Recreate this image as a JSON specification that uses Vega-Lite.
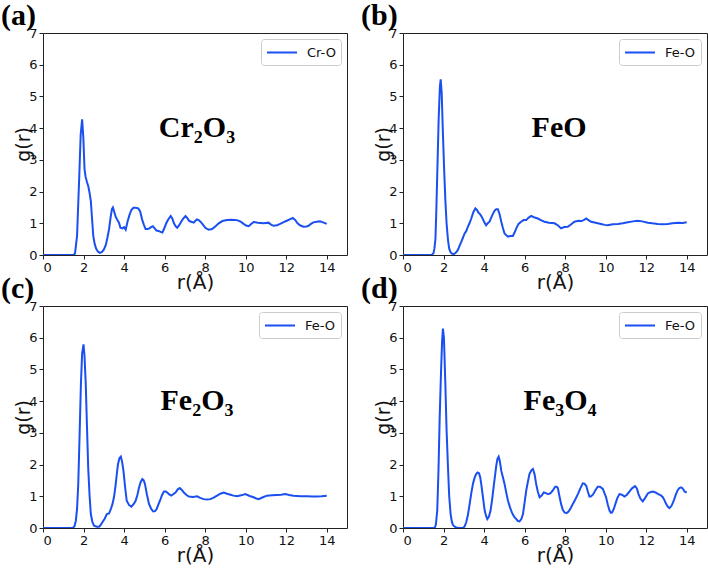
{
  "$schema": "https://vega.github.io/schema/vega-lite/v6.json",
  "padding": 0,
  "bounds": "flush",
  "columns": 2,
  "spacing": {"row": 51, "column": 56},
  "resolve": {"scale": {"color": "independent"}, "legend": {"color": "independent"}},
  "datasets": {
    "a": [
      {"pair":"Cr-O","r":0,"g":0},{"pair":"Cr-O","r":1.5,"g":0},{"pair":"Cr-O","r":1.58,"g":0.05},{"pair":"Cr-O","r":1.68,"g":0.6},{"pair":"Cr-O","r":1.79,"g":2.5},{"pair":"Cr-O","r":1.86,"g":3.8},{"pair":"Cr-O","r":1.93,"g":4.28},{"pair":"Cr-O","r":1.99,"g":3.7},{"pair":"Cr-O","r":2.05,"g":2.7},{"pair":"Cr-O","r":2.1,"g":2.47},{"pair":"Cr-O","r":2.17,"g":2.3},{"pair":"Cr-O","r":2.24,"g":2.15},{"pair":"Cr-O","r":2.3,"g":1.95},{"pair":"Cr-O","r":2.36,"g":1.7},{"pair":"Cr-O","r":2.42,"g":1.15},{"pair":"Cr-O","r":2.48,"g":0.6},{"pair":"Cr-O","r":2.55,"g":0.35},{"pair":"Cr-O","r":2.62,"g":0.2},{"pair":"Cr-O","r":2.7,"g":0.12},{"pair":"Cr-O","r":2.8,"g":0.07},{"pair":"Cr-O","r":2.9,"g":0.09},{"pair":"Cr-O","r":3.0,"g":0.17},{"pair":"Cr-O","r":3.1,"g":0.32},{"pair":"Cr-O","r":3.18,"g":0.55},{"pair":"Cr-O","r":3.26,"g":0.82},{"pair":"Cr-O","r":3.34,"g":1.2},{"pair":"Cr-O","r":3.4,"g":1.45},{"pair":"Cr-O","r":3.45,"g":1.5},{"pair":"Cr-O","r":3.52,"g":1.35},{"pair":"Cr-O","r":3.59,"g":1.2},{"pair":"Cr-O","r":3.67,"g":1.1},{"pair":"Cr-O","r":3.75,"g":1.02},{"pair":"Cr-O","r":3.82,"g":0.86},{"pair":"Cr-O","r":3.92,"g":0.84},{"pair":"Cr-O","r":4.0,"g":0.88},{"pair":"Cr-O","r":4.08,"g":0.8},{"pair":"Cr-O","r":4.17,"g":1.05},{"pair":"Cr-O","r":4.26,"g":1.25},{"pair":"Cr-O","r":4.36,"g":1.42},{"pair":"Cr-O","r":4.46,"g":1.49},{"pair":"Cr-O","r":4.57,"g":1.49},{"pair":"Cr-O","r":4.7,"g":1.47},{"pair":"Cr-O","r":4.79,"g":1.38},{"pair":"Cr-O","r":4.9,"g":1.1},{"pair":"Cr-O","r":4.98,"g":0.95},{"pair":"Cr-O","r":5.06,"g":0.82},{"pair":"Cr-O","r":5.15,"g":0.82},{"pair":"Cr-O","r":5.25,"g":0.84},{"pair":"Cr-O","r":5.33,"g":0.88},{"pair":"Cr-O","r":5.42,"g":0.91},{"pair":"Cr-O","r":5.5,"g":0.85},{"pair":"Cr-O","r":5.6,"g":0.77},{"pair":"Cr-O","r":5.7,"g":0.76},{"pair":"Cr-O","r":5.8,"g":0.73},{"pair":"Cr-O","r":5.89,"g":0.71},{"pair":"Cr-O","r":5.97,"g":0.82},{"pair":"Cr-O","r":6.08,"g":1.0},{"pair":"Cr-O","r":6.18,"g":1.12},{"pair":"Cr-O","r":6.3,"g":1.23},{"pair":"Cr-O","r":6.38,"g":1.15},{"pair":"Cr-O","r":6.46,"g":1.0},{"pair":"Cr-O","r":6.55,"g":0.9},{"pair":"Cr-O","r":6.62,"g":0.86},{"pair":"Cr-O","r":6.72,"g":0.94},{"pair":"Cr-O","r":6.82,"g":1.05},{"pair":"Cr-O","r":6.92,"g":1.15},{"pair":"Cr-O","r":7.03,"g":1.23},{"pair":"Cr-O","r":7.12,"g":1.16},{"pair":"Cr-O","r":7.22,"g":1.07},{"pair":"Cr-O","r":7.32,"g":1.05},{"pair":"Cr-O","r":7.44,"g":1.02},{"pair":"Cr-O","r":7.52,"g":1.08},{"pair":"Cr-O","r":7.6,"g":1.12},{"pair":"Cr-O","r":7.68,"g":1.1},{"pair":"Cr-O","r":7.77,"g":1.05},{"pair":"Cr-O","r":7.9,"g":0.95},{"pair":"Cr-O","r":8.02,"g":0.85},{"pair":"Cr-O","r":8.18,"g":0.8},{"pair":"Cr-O","r":8.34,"g":0.82},{"pair":"Cr-O","r":8.5,"g":0.9},{"pair":"Cr-O","r":8.67,"g":1.0},{"pair":"Cr-O","r":8.85,"g":1.07},{"pair":"Cr-O","r":9.08,"g":1.1},{"pair":"Cr-O","r":9.3,"g":1.11},{"pair":"Cr-O","r":9.57,"g":1.1},{"pair":"Cr-O","r":9.75,"g":1.05},{"pair":"Cr-O","r":9.9,"g":0.98},{"pair":"Cr-O","r":10.02,"g":0.93},{"pair":"Cr-O","r":10.15,"g":0.91},{"pair":"Cr-O","r":10.27,"g":0.98},{"pair":"Cr-O","r":10.39,"g":1.04},{"pair":"Cr-O","r":10.6,"g":1.02},{"pair":"Cr-O","r":10.89,"g":1.0},{"pair":"Cr-O","r":11.13,"g":1.02},{"pair":"Cr-O","r":11.25,"g":0.96},{"pair":"Cr-O","r":11.38,"g":0.92},{"pair":"Cr-O","r":11.55,"g":0.94},{"pair":"Cr-O","r":11.7,"g":0.98},{"pair":"Cr-O","r":11.85,"g":1.03},{"pair":"Cr-O","r":12.03,"g":1.08},{"pair":"Cr-O","r":12.2,"g":1.13},{"pair":"Cr-O","r":12.33,"g":1.17},{"pair":"Cr-O","r":12.45,"g":1.1},{"pair":"Cr-O","r":12.56,"g":1.0},{"pair":"Cr-O","r":12.7,"g":0.93},{"pair":"Cr-O","r":12.85,"g":0.89},{"pair":"Cr-O","r":13.0,"g":0.9},{"pair":"Cr-O","r":13.1,"g":0.92},{"pair":"Cr-O","r":13.22,"g":0.98},{"pair":"Cr-O","r":13.34,"g":1.03},{"pair":"Cr-O","r":13.5,"g":1.05},{"pair":"Cr-O","r":13.67,"g":1.06},{"pair":"Cr-O","r":13.85,"g":1.02},{"pair":"Cr-O","r":14.0,"g":0.98}
    ],
    "b": [
      {"pair":"Fe-O","r":0,"g":0},{"pair":"Fe-O","r":1.4,"g":0},{"pair":"Fe-O","r":1.5,"g":0.05},{"pair":"Fe-O","r":1.55,"g":0.2},{"pair":"Fe-O","r":1.6,"g":0.5},{"pair":"Fe-O","r":1.64,"g":1.3},{"pair":"Fe-O","r":1.7,"g":2.8},{"pair":"Fe-O","r":1.76,"g":4.3},{"pair":"Fe-O","r":1.82,"g":5.3},{"pair":"Fe-O","r":1.86,"g":5.54},{"pair":"Fe-O","r":1.91,"g":5.1},{"pair":"Fe-O","r":1.97,"g":3.83},{"pair":"Fe-O","r":2.03,"g":2.7},{"pair":"Fe-O","r":2.09,"g":1.73},{"pair":"Fe-O","r":2.15,"g":1.0},{"pair":"Fe-O","r":2.22,"g":0.47},{"pair":"Fe-O","r":2.28,"g":0.2},{"pair":"Fe-O","r":2.35,"g":0.08},{"pair":"Fe-O","r":2.43,"g":0.04},{"pair":"Fe-O","r":2.51,"g":0.03},{"pair":"Fe-O","r":2.6,"g":0.07},{"pair":"Fe-O","r":2.71,"g":0.16},{"pair":"Fe-O","r":2.8,"g":0.3},{"pair":"Fe-O","r":2.88,"g":0.42},{"pair":"Fe-O","r":2.96,"g":0.55},{"pair":"Fe-O","r":3.04,"g":0.68},{"pair":"Fe-O","r":3.12,"g":0.75},{"pair":"Fe-O","r":3.2,"g":0.89},{"pair":"Fe-O","r":3.28,"g":1.0},{"pair":"Fe-O","r":3.37,"g":1.15},{"pair":"Fe-O","r":3.47,"g":1.35},{"pair":"Fe-O","r":3.57,"g":1.47},{"pair":"Fe-O","r":3.65,"g":1.42},{"pair":"Fe-O","r":3.73,"g":1.33},{"pair":"Fe-O","r":3.81,"g":1.28},{"pair":"Fe-O","r":3.89,"g":1.2},{"pair":"Fe-O","r":4.0,"g":1.05},{"pair":"Fe-O","r":4.1,"g":0.94},{"pair":"Fe-O","r":4.18,"g":1.0},{"pair":"Fe-O","r":4.27,"g":1.05},{"pair":"Fe-O","r":4.4,"g":1.25},{"pair":"Fe-O","r":4.52,"g":1.4},{"pair":"Fe-O","r":4.6,"g":1.44},{"pair":"Fe-O","r":4.68,"g":1.44},{"pair":"Fe-O","r":4.76,"g":1.3},{"pair":"Fe-O","r":4.85,"g":1.05},{"pair":"Fe-O","r":4.93,"g":0.85},{"pair":"Fe-O","r":5.01,"g":0.68},{"pair":"Fe-O","r":5.1,"g":0.62},{"pair":"Fe-O","r":5.18,"g":0.58},{"pair":"Fe-O","r":5.3,"g":0.6},{"pair":"Fe-O","r":5.42,"g":0.6},{"pair":"Fe-O","r":5.5,"g":0.7},{"pair":"Fe-O","r":5.59,"g":0.84},{"pair":"Fe-O","r":5.7,"g":0.98},{"pair":"Fe-O","r":5.83,"g":1.05},{"pair":"Fe-O","r":5.95,"g":1.1},{"pair":"Fe-O","r":6.08,"g":1.1},{"pair":"Fe-O","r":6.2,"g":1.18},{"pair":"Fe-O","r":6.33,"g":1.23},{"pair":"Fe-O","r":6.5,"g":1.18},{"pair":"Fe-O","r":6.65,"g":1.15},{"pair":"Fe-O","r":6.8,"g":1.1},{"pair":"Fe-O","r":6.98,"g":1.05},{"pair":"Fe-O","r":7.2,"g":1.02},{"pair":"Fe-O","r":7.48,"g":1.0},{"pair":"Fe-O","r":7.65,"g":0.93},{"pair":"Fe-O","r":7.8,"g":0.84},{"pair":"Fe-O","r":7.95,"g":0.88},{"pair":"Fe-O","r":8.13,"g":0.89},{"pair":"Fe-O","r":8.3,"g":0.97},{"pair":"Fe-O","r":8.46,"g":1.05},{"pair":"Fe-O","r":8.65,"g":1.08},{"pair":"Fe-O","r":8.79,"g":1.07},{"pair":"Fe-O","r":8.92,"g":1.1},{"pair":"Fe-O","r":9.04,"g":1.15},{"pair":"Fe-O","r":9.15,"g":1.1},{"pair":"Fe-O","r":9.28,"g":1.05},{"pair":"Fe-O","r":9.5,"g":1.02},{"pair":"Fe-O","r":9.77,"g":0.98},{"pair":"Fe-O","r":9.95,"g":0.95},{"pair":"Fe-O","r":10.1,"g":0.94},{"pair":"Fe-O","r":10.35,"g":0.97},{"pair":"Fe-O","r":10.6,"g":0.98},{"pair":"Fe-O","r":10.85,"g":1.0},{"pair":"Fe-O","r":11.09,"g":1.03},{"pair":"Fe-O","r":11.35,"g":1.06},{"pair":"Fe-O","r":11.58,"g":1.08},{"pair":"Fe-O","r":11.8,"g":1.06},{"pair":"Fe-O","r":12.08,"g":1.02},{"pair":"Fe-O","r":12.3,"g":1.0},{"pair":"Fe-O","r":12.57,"g":0.98},{"pair":"Fe-O","r":12.8,"g":0.97},{"pair":"Fe-O","r":13.06,"g":0.98},{"pair":"Fe-O","r":13.3,"g":1.0},{"pair":"Fe-O","r":13.56,"g":1.02},{"pair":"Fe-O","r":13.8,"g":1.01},{"pair":"Fe-O","r":14.0,"g":1.03}
    ],
    "c": [
      {"pair":"Fe-O","r":0,"g":0},{"pair":"Fe-O","r":1.46,"g":0},{"pair":"Fe-O","r":1.55,"g":0.05},{"pair":"Fe-O","r":1.62,"g":0.23},{"pair":"Fe-O","r":1.68,"g":0.6},{"pair":"Fe-O","r":1.74,"g":1.39},{"pair":"Fe-O","r":1.8,"g":2.8},{"pair":"Fe-O","r":1.87,"g":4.53},{"pair":"Fe-O","r":1.93,"g":5.5},{"pair":"Fe-O","r":2.0,"g":5.79},{"pair":"Fe-O","r":2.05,"g":5.4},{"pair":"Fe-O","r":2.11,"g":4.53},{"pair":"Fe-O","r":2.17,"g":3.2},{"pair":"Fe-O","r":2.23,"g":1.91},{"pair":"Fe-O","r":2.3,"g":1.0},{"pair":"Fe-O","r":2.36,"g":0.44},{"pair":"Fe-O","r":2.44,"g":0.18},{"pair":"Fe-O","r":2.52,"g":0.07},{"pair":"Fe-O","r":2.65,"g":0.04},{"pair":"Fe-O","r":2.77,"g":0.04},{"pair":"Fe-O","r":2.85,"g":0.1},{"pair":"Fe-O","r":2.93,"g":0.18},{"pair":"Fe-O","r":3.05,"g":0.3},{"pair":"Fe-O","r":3.15,"g":0.44},{"pair":"Fe-O","r":3.26,"g":0.46},{"pair":"Fe-O","r":3.35,"g":0.6},{"pair":"Fe-O","r":3.43,"g":0.76},{"pair":"Fe-O","r":3.51,"g":1.0},{"pair":"Fe-O","r":3.59,"g":1.39},{"pair":"Fe-O","r":3.65,"g":1.75},{"pair":"Fe-O","r":3.7,"g":2.01},{"pair":"Fe-O","r":3.77,"g":2.2},{"pair":"Fe-O","r":3.84,"g":2.25},{"pair":"Fe-O","r":3.9,"g":2.1},{"pair":"Fe-O","r":3.97,"g":1.8},{"pair":"Fe-O","r":4.05,"g":1.3},{"pair":"Fe-O","r":4.13,"g":0.86},{"pair":"Fe-O","r":4.25,"g":0.72},{"pair":"Fe-O","r":4.36,"g":0.67},{"pair":"Fe-O","r":4.47,"g":0.75},{"pair":"Fe-O","r":4.57,"g":0.86},{"pair":"Fe-O","r":4.66,"g":1.05},{"pair":"Fe-O","r":4.74,"g":1.28},{"pair":"Fe-O","r":4.82,"g":1.45},{"pair":"Fe-O","r":4.9,"g":1.54},{"pair":"Fe-O","r":4.97,"g":1.5},{"pair":"Fe-O","r":5.03,"g":1.39},{"pair":"Fe-O","r":5.13,"g":1.05},{"pair":"Fe-O","r":5.23,"g":0.76},{"pair":"Fe-O","r":5.34,"g":0.6},{"pair":"Fe-O","r":5.44,"g":0.52},{"pair":"Fe-O","r":5.53,"g":0.53},{"pair":"Fe-O","r":5.61,"g":0.6},{"pair":"Fe-O","r":5.7,"g":0.75},{"pair":"Fe-O","r":5.8,"g":0.91},{"pair":"Fe-O","r":5.88,"g":1.05},{"pair":"Fe-O","r":5.97,"g":1.15},{"pair":"Fe-O","r":6.05,"g":1.15},{"pair":"Fe-O","r":6.13,"g":1.12},{"pair":"Fe-O","r":6.23,"g":1.06},{"pair":"Fe-O","r":6.33,"g":1.02},{"pair":"Fe-O","r":6.44,"g":1.07},{"pair":"Fe-O","r":6.54,"g":1.12},{"pair":"Fe-O","r":6.65,"g":1.22},{"pair":"Fe-O","r":6.75,"g":1.26},{"pair":"Fe-O","r":6.85,"g":1.2},{"pair":"Fe-O","r":6.95,"g":1.12},{"pair":"Fe-O","r":7.08,"g":1.04},{"pair":"Fe-O","r":7.2,"g":0.99},{"pair":"Fe-O","r":7.4,"g":0.98},{"pair":"Fe-O","r":7.61,"g":1.0},{"pair":"Fe-O","r":7.75,"g":0.95},{"pair":"Fe-O","r":7.93,"g":0.91},{"pair":"Fe-O","r":8.1,"g":0.9},{"pair":"Fe-O","r":8.26,"g":0.91},{"pair":"Fe-O","r":8.42,"g":0.96},{"pair":"Fe-O","r":8.59,"g":1.02},{"pair":"Fe-O","r":8.75,"g":1.08},{"pair":"Fe-O","r":8.92,"g":1.12},{"pair":"Fe-O","r":9.08,"g":1.08},{"pair":"Fe-O","r":9.25,"g":1.05},{"pair":"Fe-O","r":9.4,"g":1.02},{"pair":"Fe-O","r":9.57,"g":1.0},{"pair":"Fe-O","r":9.78,"g":1.03},{"pair":"Fe-O","r":9.98,"g":1.07},{"pair":"Fe-O","r":10.2,"g":1.01},{"pair":"Fe-O","r":10.39,"g":0.97},{"pair":"Fe-O","r":10.52,"g":0.93},{"pair":"Fe-O","r":10.64,"g":0.91},{"pair":"Fe-O","r":10.85,"g":0.97},{"pair":"Fe-O","r":11.05,"g":1.02},{"pair":"Fe-O","r":11.3,"g":1.03},{"pair":"Fe-O","r":11.54,"g":1.04},{"pair":"Fe-O","r":11.75,"g":1.05},{"pair":"Fe-O","r":11.95,"g":1.07},{"pair":"Fe-O","r":12.15,"g":1.04},{"pair":"Fe-O","r":12.36,"g":1.02},{"pair":"Fe-O","r":12.7,"g":1.0},{"pair":"Fe-O","r":13.02,"g":1.0},{"pair":"Fe-O","r":13.3,"g":0.99},{"pair":"Fe-O","r":13.51,"g":0.99},{"pair":"Fe-O","r":13.75,"g":1.0},{"pair":"Fe-O","r":14.0,"g":1.02}
    ],
    "d": [
      {"pair":"Fe-O","r":0,"g":0},{"pair":"Fe-O","r":1.56,"g":0},{"pair":"Fe-O","r":1.62,"g":0.1},{"pair":"Fe-O","r":1.69,"g":0.55},{"pair":"Fe-O","r":1.75,"g":1.8},{"pair":"Fe-O","r":1.81,"g":3.48},{"pair":"Fe-O","r":1.88,"g":5.0},{"pair":"Fe-O","r":1.93,"g":5.9},{"pair":"Fe-O","r":1.97,"g":6.29},{"pair":"Fe-O","r":2.02,"g":6.0},{"pair":"Fe-O","r":2.09,"g":4.53},{"pair":"Fe-O","r":2.15,"g":3.1},{"pair":"Fe-O","r":2.22,"g":1.91},{"pair":"Fe-O","r":2.28,"g":1.0},{"pair":"Fe-O","r":2.35,"g":0.44},{"pair":"Fe-O","r":2.41,"g":0.2},{"pair":"Fe-O","r":2.46,"g":0.1},{"pair":"Fe-O","r":2.55,"g":0.04},{"pair":"Fe-O","r":2.63,"g":0.02},{"pair":"Fe-O","r":2.8,"g":0},{"pair":"Fe-O","r":2.96,"g":0},{"pair":"Fe-O","r":3.04,"g":0.05},{"pair":"Fe-O","r":3.12,"g":0.18},{"pair":"Fe-O","r":3.2,"g":0.4},{"pair":"Fe-O","r":3.29,"g":0.76},{"pair":"Fe-O","r":3.37,"g":1.1},{"pair":"Fe-O","r":3.45,"g":1.39},{"pair":"Fe-O","r":3.53,"g":1.58},{"pair":"Fe-O","r":3.61,"g":1.7},{"pair":"Fe-O","r":3.68,"g":1.75},{"pair":"Fe-O","r":3.75,"g":1.73},{"pair":"Fe-O","r":3.81,"g":1.6},{"pair":"Fe-O","r":3.86,"g":1.39},{"pair":"Fe-O","r":3.94,"g":1.0},{"pair":"Fe-O","r":4.03,"g":0.55},{"pair":"Fe-O","r":4.1,"g":0.38},{"pair":"Fe-O","r":4.16,"g":0.28},{"pair":"Fe-O","r":4.24,"g":0.36},{"pair":"Fe-O","r":4.32,"g":0.55},{"pair":"Fe-O","r":4.4,"g":0.9},{"pair":"Fe-O","r":4.49,"g":1.39},{"pair":"Fe-O","r":4.55,"g":1.7},{"pair":"Fe-O","r":4.6,"g":1.96},{"pair":"Fe-O","r":4.66,"g":2.18},{"pair":"Fe-O","r":4.72,"g":2.25},{"pair":"Fe-O","r":4.78,"g":2.1},{"pair":"Fe-O","r":4.85,"g":1.8},{"pair":"Fe-O","r":4.93,"g":1.6},{"pair":"Fe-O","r":5.01,"g":1.39},{"pair":"Fe-O","r":5.1,"g":1.1},{"pair":"Fe-O","r":5.18,"g":0.86},{"pair":"Fe-O","r":5.28,"g":0.65},{"pair":"Fe-O","r":5.37,"g":0.49},{"pair":"Fe-O","r":5.48,"g":0.36},{"pair":"Fe-O","r":5.59,"g":0.28},{"pair":"Fe-O","r":5.67,"g":0.22},{"pair":"Fe-O","r":5.75,"g":0.21},{"pair":"Fe-O","r":5.84,"g":0.28},{"pair":"Fe-O","r":5.92,"g":0.44},{"pair":"Fe-O","r":6.0,"g":0.8},{"pair":"Fe-O","r":6.08,"g":1.18},{"pair":"Fe-O","r":6.16,"g":1.45},{"pair":"Fe-O","r":6.24,"g":1.7},{"pair":"Fe-O","r":6.33,"g":1.82},{"pair":"Fe-O","r":6.41,"g":1.86},{"pair":"Fe-O","r":6.49,"g":1.7},{"pair":"Fe-O","r":6.57,"g":1.39},{"pair":"Fe-O","r":6.65,"g":1.15},{"pair":"Fe-O","r":6.74,"g":0.97},{"pair":"Fe-O","r":6.84,"g":1.02},{"pair":"Fe-O","r":6.95,"g":1.12},{"pair":"Fe-O","r":7.05,"g":1.1},{"pair":"Fe-O","r":7.15,"g":1.07},{"pair":"Fe-O","r":7.23,"g":1.08},{"pair":"Fe-O","r":7.31,"g":1.12},{"pair":"Fe-O","r":7.41,"g":1.2},{"pair":"Fe-O","r":7.51,"g":1.3},{"pair":"Fe-O","r":7.58,"g":1.3},{"pair":"Fe-O","r":7.64,"g":1.26},{"pair":"Fe-O","r":7.72,"g":1.0},{"pair":"Fe-O","r":7.8,"g":0.76},{"pair":"Fe-O","r":7.88,"g":0.58},{"pair":"Fe-O","r":7.97,"g":0.49},{"pair":"Fe-O","r":8.07,"g":0.47},{"pair":"Fe-O","r":8.17,"g":0.52},{"pair":"Fe-O","r":8.28,"g":0.63},{"pair":"Fe-O","r":8.38,"g":0.76},{"pair":"Fe-O","r":8.5,"g":0.9},{"pair":"Fe-O","r":8.63,"g":1.07},{"pair":"Fe-O","r":8.75,"g":1.25},{"pair":"Fe-O","r":8.87,"g":1.41},{"pair":"Fe-O","r":8.95,"g":1.4},{"pair":"Fe-O","r":9.04,"g":1.33},{"pair":"Fe-O","r":9.12,"g":1.15},{"pair":"Fe-O","r":9.2,"g":0.99},{"pair":"Fe-O","r":9.28,"g":1.0},{"pair":"Fe-O","r":9.37,"g":1.05},{"pair":"Fe-O","r":9.5,"g":1.2},{"pair":"Fe-O","r":9.61,"g":1.3},{"pair":"Fe-O","r":9.72,"g":1.3},{"pair":"Fe-O","r":9.86,"g":1.23},{"pair":"Fe-O","r":9.94,"g":1.1},{"pair":"Fe-O","r":10.02,"g":0.97},{"pair":"Fe-O","r":10.1,"g":0.75},{"pair":"Fe-O","r":10.19,"g":0.55},{"pair":"Fe-O","r":10.26,"g":0.48},{"pair":"Fe-O","r":10.32,"g":0.49},{"pair":"Fe-O","r":10.4,"g":0.6},{"pair":"Fe-O","r":10.48,"g":0.76},{"pair":"Fe-O","r":10.58,"g":0.95},{"pair":"Fe-O","r":10.68,"g":1.07},{"pair":"Fe-O","r":10.8,"g":1.05},{"pair":"Fe-O","r":10.93,"g":0.99},{"pair":"Fe-O","r":11.05,"g":1.05},{"pair":"Fe-O","r":11.17,"g":1.15},{"pair":"Fe-O","r":11.3,"g":1.25},{"pair":"Fe-O","r":11.45,"g":1.32},{"pair":"Fe-O","r":11.54,"g":1.25},{"pair":"Fe-O","r":11.62,"g":1.07},{"pair":"Fe-O","r":11.72,"g":0.92},{"pair":"Fe-O","r":11.83,"g":0.84},{"pair":"Fe-O","r":11.95,"g":0.95},{"pair":"Fe-O","r":12.08,"g":1.09},{"pair":"Fe-O","r":12.2,"g":1.13},{"pair":"Fe-O","r":12.32,"g":1.15},{"pair":"Fe-O","r":12.46,"g":1.12},{"pair":"Fe-O","r":12.6,"g":1.07},{"pair":"Fe-O","r":12.72,"g":1.03},{"pair":"Fe-O","r":12.82,"g":0.97},{"pair":"Fe-O","r":12.9,"g":0.88},{"pair":"Fe-O","r":12.98,"g":0.76},{"pair":"Fe-O","r":13.07,"g":0.67},{"pair":"Fe-O","r":13.15,"g":0.63},{"pair":"Fe-O","r":13.25,"g":0.7},{"pair":"Fe-O","r":13.36,"g":0.86},{"pair":"Fe-O","r":13.46,"g":1.05},{"pair":"Fe-O","r":13.56,"g":1.2},{"pair":"Fe-O","r":13.64,"g":1.26},{"pair":"Fe-O","r":13.72,"g":1.28},{"pair":"Fe-O","r":13.8,"g":1.25},{"pair":"Fe-O","r":13.89,"g":1.15},{"pair":"Fe-O","r":14.0,"g":1.12}
    ]
  },
  "concat": [
    {
      "width": 304, "height": 222,
      "title": {"text": "(a)"},
      "layer": [
        {
          "data": {"name": "a"},
          "mark": {"type": "line", "strokeWidth": 2, "clip": true},
          "encoding": {
            "x": {"field": "r", "type": "quantitative", "scale": {"domain": [0, 15], "nice": false}, "axis": {"values": [0, 2, 4, 6, 8, 10, 12, 14], "title": "r(Å)"}},
            "y": {"field": "g", "type": "quantitative", "scale": {"domain": [0, 7], "nice": false}, "axis": {"values": [0, 1, 2, 3, 4, 5, 6, 7], "title": "g(r)"}},
            "color": {"field": "pair", "type": "nominal", "scale": {"range": ["#1a4ff0"]}, "legend": {"title": null}}
          }
        },
        {
          "data": {"values": [{"t": "Cr₂O₃"}]},
          "mark": {"type": "text", "font": "Liberation Serif", "fontWeight": "bold", "fontSize": 30, "color": "black", "baseline": "middle", "align": "center"},
          "encoding": {
            "x": {"datum": 7.6, "type": "quantitative", "axis": {"values": [0, 2, 4, 6, 8, 10, 12, 14], "title": "r(Å)"}},
            "y": {"datum": 4.0, "type": "quantitative", "axis": {"values": [0, 1, 2, 3, 4, 5, 6, 7], "title": "g(r)"}},
            "text": {"field": "t"}
          }
        }
      ]
    },
    {
      "width": 304, "height": 222,
      "title": {"text": "(b)"},
      "layer": [
        {
          "data": {"name": "b"},
          "mark": {"type": "line", "strokeWidth": 2, "clip": true},
          "encoding": {
            "x": {"field": "r", "type": "quantitative", "scale": {"domain": [0, 15], "nice": false}, "axis": {"values": [0, 2, 4, 6, 8, 10, 12, 14], "title": "r(Å)"}},
            "y": {"field": "g", "type": "quantitative", "scale": {"domain": [0, 7], "nice": false}, "axis": {"values": [0, 1, 2, 3, 4, 5, 6, 7], "title": "g(r)"}},
            "color": {"field": "pair", "type": "nominal", "scale": {"range": ["#1a4ff0"]}, "legend": {"title": null}}
          }
        },
        {
          "data": {"values": [{"t": "FeO"}]},
          "mark": {"type": "text", "font": "Liberation Serif", "fontWeight": "bold", "fontSize": 30, "color": "black", "baseline": "middle", "align": "center"},
          "encoding": {
            "x": {"datum": 7.7, "type": "quantitative", "axis": {"values": [0, 2, 4, 6, 8, 10, 12, 14], "title": "r(Å)"}},
            "y": {"datum": 4.0, "type": "quantitative", "axis": {"values": [0, 1, 2, 3, 4, 5, 6, 7], "title": "g(r)"}},
            "text": {"field": "t"}
          }
        }
      ]
    },
    {
      "width": 304, "height": 222,
      "title": {"text": "(c)"},
      "layer": [
        {
          "data": {"name": "c"},
          "mark": {"type": "line", "strokeWidth": 2, "clip": true},
          "encoding": {
            "x": {"field": "r", "type": "quantitative", "scale": {"domain": [0, 15], "nice": false}, "axis": {"values": [0, 2, 4, 6, 8, 10, 12, 14], "title": "r(Å)"}},
            "y": {"field": "g", "type": "quantitative", "scale": {"domain": [0, 7], "nice": false}, "axis": {"values": [0, 1, 2, 3, 4, 5, 6, 7], "title": "g(r)"}},
            "color": {"field": "pair", "type": "nominal", "scale": {"range": ["#1a4ff0"]}, "legend": {"title": null}}
          }
        },
        {
          "data": {"values": [{"t": "Fe₂O₃"}]},
          "mark": {"type": "text", "font": "Liberation Serif", "fontWeight": "bold", "fontSize": 30, "color": "black", "baseline": "middle", "align": "center"},
          "encoding": {
            "x": {"datum": 7.6, "type": "quantitative", "axis": {"values": [0, 2, 4, 6, 8, 10, 12, 14], "title": "r(Å)"}},
            "y": {"datum": 4.0, "type": "quantitative", "axis": {"values": [0, 1, 2, 3, 4, 5, 6, 7], "title": "g(r)"}},
            "text": {"field": "t"}
          }
        }
      ]
    },
    {
      "width": 304, "height": 222,
      "title": {"text": "(d)"},
      "layer": [
        {
          "data": {"name": "d"},
          "mark": {"type": "line", "strokeWidth": 2, "clip": true},
          "encoding": {
            "x": {"field": "r", "type": "quantitative", "scale": {"domain": [0, 15], "nice": false}, "axis": {"values": [0, 2, 4, 6, 8, 10, 12, 14], "title": "r(Å)"}},
            "y": {"field": "g", "type": "quantitative", "scale": {"domain": [0, 7], "nice": false}, "axis": {"values": [0, 1, 2, 3, 4, 5, 6, 7], "title": "g(r)"}},
            "color": {"field": "pair", "type": "nominal", "scale": {"range": ["#1a4ff0"]}, "legend": {"title": null}}
          }
        },
        {
          "data": {"values": [{"t": "Fe₃O₄"}]},
          "mark": {"type": "text", "font": "Liberation Serif", "fontWeight": "bold", "fontSize": 30, "color": "black", "baseline": "middle", "align": "center"},
          "encoding": {
            "x": {"datum": 7.75, "type": "quantitative", "axis": {"values": [0, 2, 4, 6, 8, 10, 12, 14], "title": "r(Å)"}},
            "y": {"datum": 4.0, "type": "quantitative", "axis": {"values": [0, 1, 2, 3, 4, 5, 6, 7], "title": "g(r)"}},
            "text": {"field": "t"}
          }
        }
      ]
    }
  ],
  "config": {
    "font": "DejaVu Sans",
    "background": "white",
    "view": {"stroke": "#222", "strokeWidth": 1},
    "axis": {"grid": false, "domain": false, "tickColor": "#222", "tickSize": 4, "labelFont": "DejaVu Sans", "labelFontSize": 13, "labelColor": "#111", "labelPadding": 2, "titleFont": "DejaVu Sans", "titleFontWeight": "normal", "titleColor": "#111"},
    "axisX": {"titleFontSize": 20, "titlePadding": -2},
    "axisY": {"titleFontSize": 19, "titlePadding": -5},
    "legend": {"orient": "top-right", "offset": 6, "padding": 5, "strokeColor": "#ccc", "fillColor": "white", "cornerRadius": 3, "symbolType": "M-1,0L3,0", "symbolSize": 225, "symbolStrokeWidth": 2, "labelFont": "DejaVu Sans", "labelFontSize": 13, "labelColor": "#111", "labelOffset": 24},
    "title": {"font": "Liberation Serif", "fontSize": 30, "fontWeight": "bold", "color": "black", "anchor": "start", "frame": "group", "dx": -42, "offset": -4}
  }
}
